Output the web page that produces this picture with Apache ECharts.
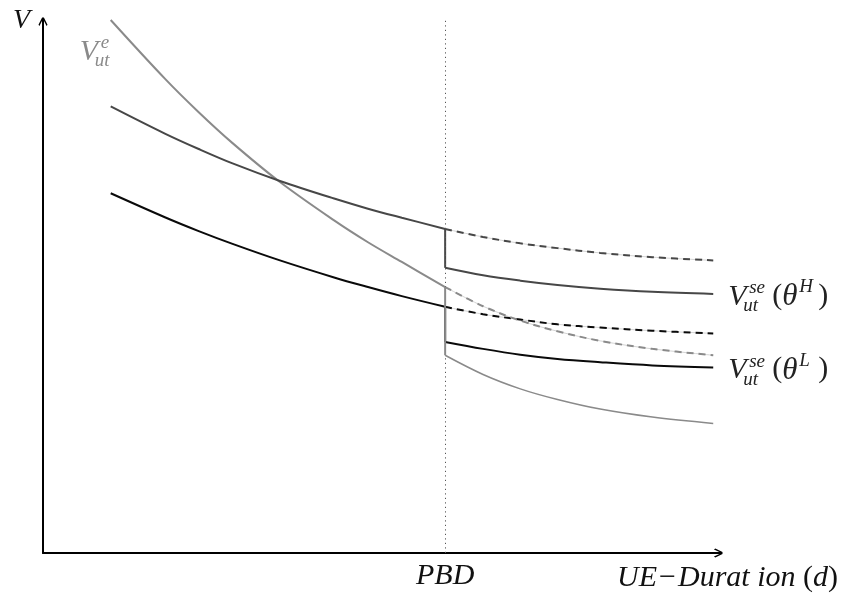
<!DOCTYPE html>
<html>
<head>
<meta charset="utf-8">
<script src="https://cdn.jsdelivr.net/npm/echarts@6/dist/echarts.min.js"></script>
<style>
  html, body { margin: 0; padding: 0; background: #fff; }
  #chart { width: 842px; height: 599px; }
</style>
</head>
<body>
<div id="chart"></div>
<script>
  // benefit exhaustion point on the duration axis
  const PBD = 5.94

  // before PBD
  const xPre = [1.0, 1.8, 2.3, 2.8, 3.5, 4.3, 4.8, 5.3, PBD]
  const grayPre = [10.0, 8.90, 8.27, 7.69, 6.96, 6.24, 5.83, 5.46, 4.99]
  const darkPre = [8.38, 7.87, 7.58, 7.31, 6.98, 6.65, 6.46, 6.29, 6.08]
  const blackPre = [6.75, 6.30, 6.04, 5.80, 5.49, 5.17, 4.99, 4.82, 4.62]

  // after PBD: dashed = no drop, solid = after the drop
  const xPost = [PBD, 6.5, 7.05, 7.6, 8.23, 9.0, 9.9]
  const grayDash = [4.99, 4.63, 4.36, 4.16, 3.98, 3.83, 3.71]
  const grayPost = [3.71, 3.35, 3.08, 2.88, 2.70, 2.55, 2.43]
  const darkDash = [6.08, 5.93, 5.81, 5.72, 5.63, 5.55, 5.49]
  const darkPost = [5.35, 5.21, 5.11, 5.03, 4.96, 4.90, 4.86]
  const blackDash = [4.62, 4.48, 4.38, 4.29, 4.23, 4.17, 4.12]
  const blackPost = [3.96, 3.83, 3.72, 3.64, 3.58, 3.52, 3.48]

  const GRAY = '#8a8a8a'
  const DARK = '#474747'
  const BLACK = '#0a0a0a'
  const SERIF = '"Liberation Serif", "DejaVu Serif", serif'

  // open arrow head pointing up (echarts rotates it along the axis)
  const arrow = 'path://M4,0 L6,0 L10,8 L9,9.5 L6,3.5 L6,10 L4,10 L4,3.5 L1,9.5 L0,8 Z'

  function pairs(xs, ys) {
    return xs.map((x, i) => [x, ys[i]])
  }

  function curve(xs, ys, color, width, z) {
    return {
      type: 'line', data: pairs(xs, ys), smooth: 0.35, showSymbol: false,
      silent: true, z: z || 2,
      lineStyle: { color: color, width: width }
    }
  }

  function dashed(xs, ys, color) {
    return [
      // faint line under the dashes
      curve(xs, ys, '#d4d4d4', 1, 2),
      {
        type: 'line', data: pairs(xs, ys), smooth: 0.35, showSymbol: false,
        silent: true, z: 3,
        lineStyle: { color: color, width: 2, type: [7, 5] }
      }
    ]
  }

  function drop(y1, y2, color, z) {
    return {
      type: 'line', data: [[PBD, y1], [PBD, y2]], showSymbol: false, silent: true, z: z,
      lineStyle: { color: color, width: 2 }
    }
  }

  const series = [
    {
      type: 'line', data: [], silent: true,
      markLine: {
        silent: true, symbol: 'none',
        lineStyle: { type: [1.2, 3.3], color: '#555', width: 1 },
        label: {
          position: 'start', formatter: 'PBD', distance: 8,
          fontFamily: SERIF, fontStyle: 'italic', fontSize: 30, color: '#111'
        },
        data: [{ xAxis: PBD }]
      }
    },
    curve(xPre, grayPre, GRAY, 2),
    curve(xPre, darkPre, DARK, 2),
    curve(xPre, blackPre, BLACK, 2),
    ...dashed(xPost, darkDash, DARK),
    ...dashed(xPost, blackDash, BLACK),
    ...dashed(xPost, grayDash, GRAY),
    drop(darkPre[darkPre.length - 1], darkPost[0], DARK, 4),
    drop(blackPre[blackPre.length - 1], blackPost[0], BLACK, 4),
    drop(grayPre[grayPre.length - 1], grayPost[0], GRAY, 5),
    curve(xPost, darkPost, DARK, 2, 4),
    curve(xPost, blackPost, BLACK, 2, 4),
    curve(xPost, grayPost, GRAY, 1.5, 4)
  ]

  const chart = echarts.init(document.getElementById('chart'), null, { renderer: 'canvas' })

  chart.setOption({
    animation: false,
    backgroundColor: '#fff',
    grid: { left: 43, right: 122, top: 20, bottom: 46 },
    xAxis: {
      type: 'value', min: 0, max: 10,
      axisLine: { show: true, symbol: ['none', arrow], symbolSize: [10, 9], symbolOffset: [0, -2],
        lineStyle: { color: '#000', width: 2 } },
      axisTick: { show: false }, axisLabel: { show: false }, splitLine: { show: false },
      name: '{i|UE}{m|−}{i|Durat ion }{r|(}{i|d}{r|)}',
      nameLocation: 'end', nameGap: 118,
      nameTextStyle: {
        align: 'right', verticalAlign: 'top', padding: [10, 0, 0, 0],
        rich: {
          i: { fontFamily: SERIF, fontStyle: 'italic', fontSize: 30, color: '#111' },
          m: { fontFamily: SERIF, fontSize: 30, color: '#111', padding: [0, 2, 0, 2] },
          r: { fontFamily: SERIF, fontSize: 30, color: '#111' }
        }
      }
    },
    yAxis: {
      type: 'value', min: 0, max: 10,
      axisLine: { show: true, symbol: ['none', arrow], symbolSize: [10, 9], symbolOffset: [0, -2],
        lineStyle: { color: '#000', width: 2 } },
      axisTick: { show: false }, axisLabel: { show: false }, splitLine: { show: false },
      name: 'V', nameLocation: 'end', nameGap: -1,
      nameTextStyle: {
        align: 'right', verticalAlign: 'middle', padding: [0, 13, 0, 0],
        fontFamily: SERIF, fontStyle: 'italic', fontSize: 28, color: '#111'
      }
    },
    series: series
  })

  // math labels: V with stacked sub/superscripts
  function txt(x, y, text, font, color) {
    return {
      type: 'text', x: x, y: y, silent: true, z: 10,
      style: { text: text, font: font, fill: color, align: 'left', verticalAlign: 'middle' }
    }
  }

  const big = 'italic 30px ' + SERIF
  const bigUp = '30px ' + SERIF
  const small = 'italic 19px ' + SERIF

  function seLabel(last, supArg) {
    const p = chart.convertToPixel({ gridIndex: 0 }, last)
    const x = p[0], y = p[1]
    return [
      txt(x + 15, y + 3, 'V', big, '#222'),
      txt(x + 36, y - 6, 'se', small, '#222'),
      txt(x + 30, y + 12, 'ut', small, '#222'),
      txt(x + 59, y + 2, '(', bigUp, '#222'),
      txt(x + 69, y + 3, 'θ', 'italic 31px ' + SERIF, '#222'),
      txt(x + 86, y - 7, supArg, small, '#222'),
      txt(x + 105, y + 2, ')', bigUp, '#222')
    ]
  }

  const g0 = chart.convertToPixel({ gridIndex: 0 }, [xPre[0], grayPre[0]])
  const graphic = [
    txt(g0[0] - 31, g0[1] + 32, 'V', big, GRAY),
    txt(g0[0] - 10, g0[1] + 23, 'e', small, GRAY),
    txt(g0[0] - 16, g0[1] + 41, 'ut', small, GRAY),
    ...seLabel([xPost[xPost.length - 1], darkPost[darkPost.length - 1]], 'H'),
    ...seLabel([xPost[xPost.length - 1], blackPost[blackPost.length - 1]], 'L')
  ]

  chart.setOption({ graphic: graphic })
</script>
</body>
</html>
